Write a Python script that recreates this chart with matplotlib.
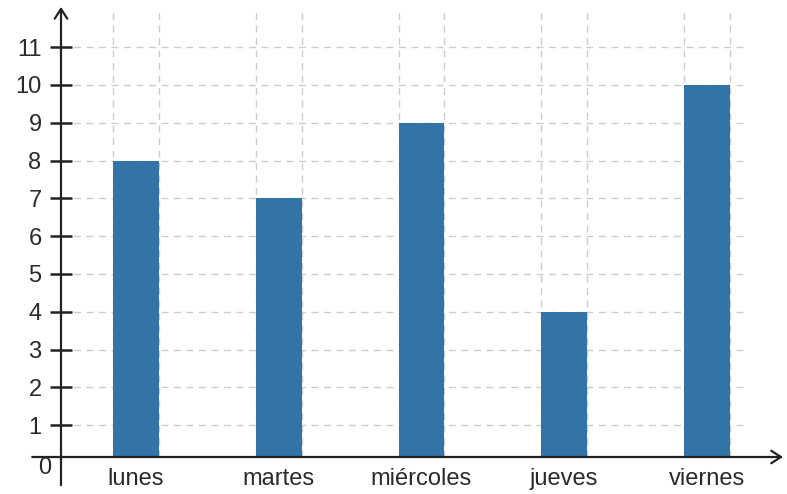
import numpy as np
import matplotlib.pyplot as plt

dias = ['lunes', 'martes', 'miércoles', 'jueves', 'viernes']
valores = [8, 7, 9, 4, 10]
marcas_y = list(range(1, 12))

plt.rcParams['font.family'] = ['Liberation Sans', 'DejaVu Sans']

fig = plt.figure(figsize=(7.87, 4.94), dpi=100)
ax = fig.add_axes([61 / 787, 37 / 494, 685 / 787, 447 / 494])

x = np.arange(len(dias))
ancho = 0.32
ax.bar(x, valores, width=ancho, color='#3274a6', zorder=3)

ax.set_xlim(-0.526, 4.275)
ax.set_ylim(0.16, 11.98)

# rejilla: horizontales en cada entero, verticales en los bordes de las barras
bordes = np.concatenate([x - ancho / 2, x + ancho / 2])
ax.set_xticks(x)
ax.set_xticklabels(dias)
ax.set_xticks(bordes, minor=True)
ax.set_yticks(marcas_y)
ax.grid(which='minor', axis='x', color='#cccccc', linestyle=(0, (5, 4)), lw=1)
ax.grid(which='major', axis='y', color='#cccccc', linestyle=(0, (5, 4)), lw=1)
ax.set_axisbelow(True)

ax.tick_params(axis='x', which='both', length=0, pad=8, labelsize=17, labelcolor='#2a2a2a')
ax.tick_params(axis='y', direction='inout', length=16, width=1.8, color='#222222',
               pad=6, labelsize=17, labelcolor='#2a2a2a')

for s in ax.spines.values():
    s.set_visible(False)

flecha = dict(arrowstyle='->,head_length=0.7,head_width=0.45', lw=1.6, color='#222222',
              shrinkA=0, shrinkB=0)
ax.annotate('', xy=(0, 1.007), xytext=(0, -0.063), xycoords='axes fraction',
            arrowprops=flecha, annotation_clip=False)
ax.annotate('', xy=(1.054, 0), xytext=(-0.042, 0), xycoords='axes fraction',
            arrowprops=flecha, annotation_clip=False)
ax.text(-0.024, -0.024, '0', transform=ax.transAxes, ha='center', va='center',
        fontsize=17, color='#2a2a2a')

fig.savefig('out.png', dpi=100)
